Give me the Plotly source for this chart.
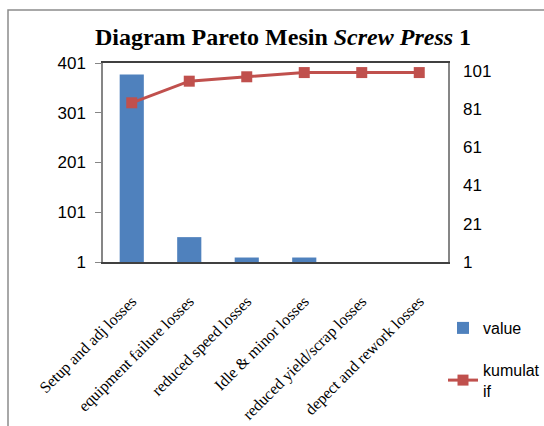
import plotly.graph_objects as go

# Loss categories (Six Big Losses) for the screw press
categories = [
    "Setup and adj losses",
    "equipment failure losses",
    "reduced speed losses",
    "Idle & minor losses",
    "reduced yield/scrap losses",
    "depect and rework losses",
]
# Loss totals per category
values = [378, 51, 10, 10, 0, 0]
# Cumulative share (%)
kumulatif = [84.2, 95.5, 97.8, 100, 100, 100]

left_ticks = [1, 101, 201, 301, 401]
right_ticks = [1, 21, 41, 61, 81, 101]

BLUE = "#4F81BD"
RED = "#C0504D"
SANS = "Liberation Sans"
SERIF = "Liberation Serif"

fig = go.Figure()
fig.add_trace(go.Bar(
    x=categories, y=values, name="value",
    marker=dict(color=BLUE, line=dict(width=0)),
    width=0.42, legendgroup="a",
))
fig.add_trace(go.Scatter(
    x=categories, y=kumulatif, name="kumulat<br>if", yaxis="y2",
    mode="lines+markers",
    line=dict(color=RED, width=3),
    marker=dict(symbol="square", size=11, color=RED),
    legendgroup="b",
))

fig.update_layout(
    width=544, height=426,
    margin=dict(l=103, r=96, t=63, b=164, autoexpand=False),
    paper_bgcolor="white", plot_bgcolor="white",
    title=dict(
        text="<b>Diagram Pareto Mesin <i>Screw Press</i> 1</b>",
        font=dict(family=SERIF, size=24, color="black"),
        x=283 / 544, xanchor="center",
        y=1 - 37 / 426, yanchor="middle", yref="container",
    ),
    showlegend=True,
    legend=dict(
        xref="container", yref="container",
        x=443 / 544, xanchor="left", y=1 - 311 / 426, yanchor="top",
        font=dict(family=SANS, size=16, color="black"),
        traceorder="grouped", tracegroupgap=18,
        bgcolor="rgba(0,0,0,0)", itemwidth=30,
    ),
    xaxis=dict(
        type="category", automargin=False,
        tickangle=-45,
        tickfont=dict(family=SERIF, size=16, color="black"),
        showline=True, linecolor="#404040", linewidth=1.5, mirror=True,
        ticks="", showgrid=False,
        ticklabelstandoff=22,
    ),
    yaxis=dict(
        range=[1, 401], tickvals=left_ticks, automargin=False,
        tickfont=dict(family=SANS, size=17, color="black"),
        showline=True, linecolor="#868686", linewidth=1.5, mirror=True,
        ticks="outside", ticklen=6, tickcolor="#868686",
        showgrid=False, zeroline=False,
        ticklabelstandoff=6,
    ),
    yaxis2=dict(
        range=[1, 105], tickvals=right_ticks, automargin=False,
        overlaying="y", side="right",
        tickfont=dict(family=SANS, size=17, color="black"),
        showline=False, ticks="", showgrid=False, zeroline=False,
        ticklabelstandoff=14,
    ),
    shapes=[dict(
        type="rect", xref="paper", yref="paper",
        x0=(8 - 103) / 345, x1=(560 - 103) / 345,
        y0=(262 - 10) / 199, y1=(262 - 440) / 199,
        line=dict(color="#8C8C8C", width=1.5),
        fillcolor="rgba(0,0,0,0)", layer="below",
    )],
)

fig.write_html("out.html")
